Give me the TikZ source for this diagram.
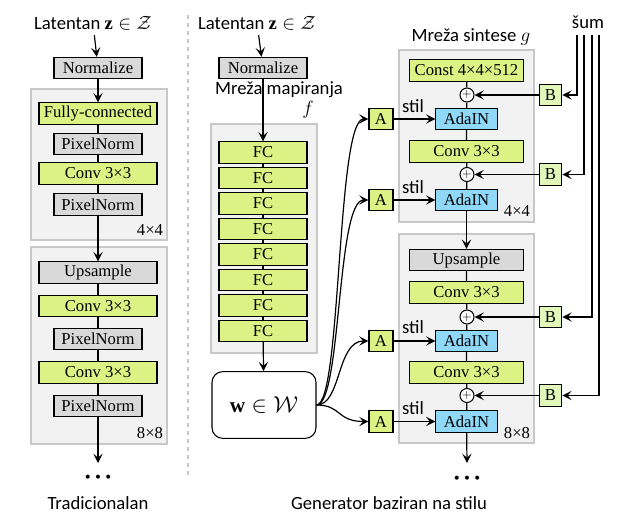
\documentclass[tikz,border=0pt]{standalone}
\usepackage{fontspec}
\setmainfont{Liberation Serif}
\newfontfamily\labfont{Carlito}
\usetikzlibrary{arrows.meta}
\definecolor{convgreen}{RGB}{220,242,133}
\definecolor{noisegreen}{RGB}{226,247,186}
\definecolor{adablue}{RGB}{143,216,248}
\definecolor{normgray}{RGB}{217,217,217}
\definecolor{blockgray}{RGB}{242,242,242}
\definecolor{blockline}{RGB}{200,200,200}

\begin{document}
\begin{tikzpicture}[x=0.75pt,y=-0.75pt,line width=0.9pt,
    >={Stealth[length=7pt,width=7pt,inset=3pt]},
    layer/.style={draw,line width=0.8pt,inner sep=0pt,minimum height=16pt,font=\fontsize{12.5}{14}\selectfont},
    conv/.style={layer,fill=convgreen,minimum width=88.5pt},
    convs/.style={layer,fill=convgreen,minimum width=86pt},
    norm/.style={layer,fill=normgray,minimum width=66pt},
    upsm/.style={layer,fill=normgray,minimum width=88.5pt},
    fcbox/.style={layer,fill=convgreen,minimum width=66pt},
    abox/.style={layer,fill=convgreen,minimum width=18pt},
    bbox/.style={layer,fill=noisegreen,minimum width=17pt},
    ada/.style={layer,fill=adablue,minimum width=46pt},
    plus/.style={circle,draw,fill=white,line width=0.8pt,inner sep=0pt,minimum size=10.5pt,font=\small},
    block/.style={draw=blockline,fill=blockgray,line width=0.8pt},
    lab/.style={font=\labfont\fontsize{14}{16}\selectfont},
    res/.style={font=\fontsize{12.5}{14}\selectfont},
    dots/.style={inner sep=0pt,font=\fontsize{7}{7}\selectfont}]
\useasboundingbox (0,0) rectangle (618,517);

% traditional generator
\draw[block] (31,89) rectangle (167,240);
\draw[block] (31,247) rectangle (167,444);
\node[lab] (zt) at (93,23) {Latentan $\mathbf{z}\in\mathcal{Z}$};
\node[norm] (nt) at (98,68) {Normalize};
\node[conv] (fct) at (98,113.5) {Fully-connected};
\node[norm] (pn1) at (98,144) {PixelNorm};
\node[conv] (cv1) at (98,173.5) {Conv 3×3};
\node[norm] (pn2) at (98,204.5) {PixelNorm};
\node[res] (rt1) at (150,230) {4×4};
\node[upsm] (upt) at (98,272.5) {Upsample};
\node[conv] (cv2) at (98,306) {Conv 3×3};
\node[norm] (pn3) at (98,339) {PixelNorm};
\node[conv] (cv3) at (98,372.5) {Conv 3×3};
\node[norm] (pn4) at (98,406) {PixelNorm};
\node[res] (rt2) at (150,433) {8×8};
\coordinate (et) at (98,463);
\node[dots] (dtt) at (98,477) {$\bullet$\hspace{3.6pt}$\bullet$\hspace{3.6pt}$\bullet$};
\node[lab] (tt) at (98,503) {Tradicionalan};
\draw[->] (zt) -- (nt);
\draw[->] (nt) -- (fct);
\draw (fct) -- (pn1) -- (cv1) -- (pn2);
\draw[->] (pn2) -- (upt);
\draw (upt) -- (cv2) -- (pn3) -- (cv3) -- (pn4);
\draw[->] (pn4) -- (et);

\draw[blockline,dashed,line width=0.8pt] (188,15) -- (188,477);

% mapping network
\draw[block] (211,124) rectangle (317,353);
\node[lab] (zs) at (257,23) {Latentan $\mathbf{z}\in\mathcal{Z}$};
\node[norm] (ns) at (263,68) {Normalize};
\foreach \i in {1,...,8}
  \node[fcbox] (fc\i) at (263,127+25.5*\i) {FC};
\node[draw,rounded corners=8pt,line width=0.8pt,minimum width=78pt,minimum height=50pt,
      font=\fontsize{16}{18}\selectfont] (w) at (264,405) {$\mathbf{w}\in\mathcal{W}$};
\draw[->] (zs) -- (ns);
\draw[->] (ns) -- (fc1);
\foreach \i [count=\j from 2] in {1,...,7}
  \draw (fc\i) -- (fc\j);
\draw[->] (fc8) -- (w);
\node[lab] (mm) at (279,90) {Mreža mapiranja};
\node[font=\fontsize{14}{16}\selectfont] (fm) at (308,110) {$f$};

% synthesis network
\draw[block] (399,50) rectangle (534,222);
\draw[block] (399,234) rectangle (534,443);
\node[lab] (ms) at (471,37) {Mreža sintese $g$};
\node[lab] (sum) at (588,22) {šum};
\node[convs] (cst) at (466.5,70.5) {Const 4×4×512};
\node[plus] (p1) at (467,95) {$+$};
\node[ada] (ad1) at (466.5,119) {AdaIN};
\node[convs] (cs1) at (466.5,151.5) {Conv 3×3};
\node[plus] (p2) at (467,174.5) {$+$};
\node[ada] (ad2) at (466.5,200) {AdaIN};
\node[res] (rs1) at (517,211) {4×4};
\node[upsm,minimum width=86pt] (ups) at (466.5,260) {Upsample};
\node[convs] (cs2) at (466.5,292.5) {Conv 3×3};
\node[plus] (p3) at (467,317) {$+$};
\node[ada] (ad3) at (466.5,341) {AdaIN};
\node[convs] (cs3) at (466.5,372.5) {Conv 3×3};
\node[plus] (p4) at (467,395.5) {$+$};
\node[ada] (ad4) at (466.5,421.5) {AdaIN};
\node[res] (rs2) at (517,433) {8×8};
\coordinate (es) at (467,463);
\node[dots] (dts) at (467,478) {$\bullet$\hspace{3.6pt}$\bullet$\hspace{3.6pt}$\bullet$};
\node[lab] (gs) at (389,503) {Generator baziran na stilu};
\draw (cst) -- (p1) -- (ad1) -- (cs1) -- (p2) -- (ad2);
\draw[->] (ad2) -- (ups);
\draw (ups) -- (cs2) -- (p3) -- (ad3) -- (cs3) -- (p4) -- (ad4);
\draw[->] (ad4) -- (es);

% styles A
\node[abox] (a1) at (381,119) {A};
\node[abox] (a2) at (381,200) {A};
\node[abox] (a3) at (381,341) {A};
\node[abox] (a4) at (381,421.5) {A};
\foreach \i in {1,...,4} {
  \draw[->] (w.east) .. controls +(25,0) and +(-32,0) .. (a\i.west);
  \draw[->] (a\i) -- (ad\i);
}
\node[lab] (st1) at (413,106) {stil};
\node[lab] (st2) at (413,187) {stil};
\node[lab] (st3) at (413,327) {stil};
\node[lab] (st4) at (413,408) {stil};

% noise B
\node[bbox] (b1) at (550.5,95) {B};
\node[bbox] (b2) at (550.5,174.5) {B};
\node[bbox] (b3) at (550.5,317) {B};
\node[bbox] (b4) at (550.5,395.5) {B};
\coordinate (n1) at (577,35);
\coordinate (n2) at (584,35);
\coordinate (n3) at (592,35);
\coordinate (n4) at (599,35);
\foreach \i in {1,...,4} {
  \draw[->] (n\i) |- (b\i);
  \draw[->] (b\i) -- (p\i);
}
\end{tikzpicture}
\end{document}
